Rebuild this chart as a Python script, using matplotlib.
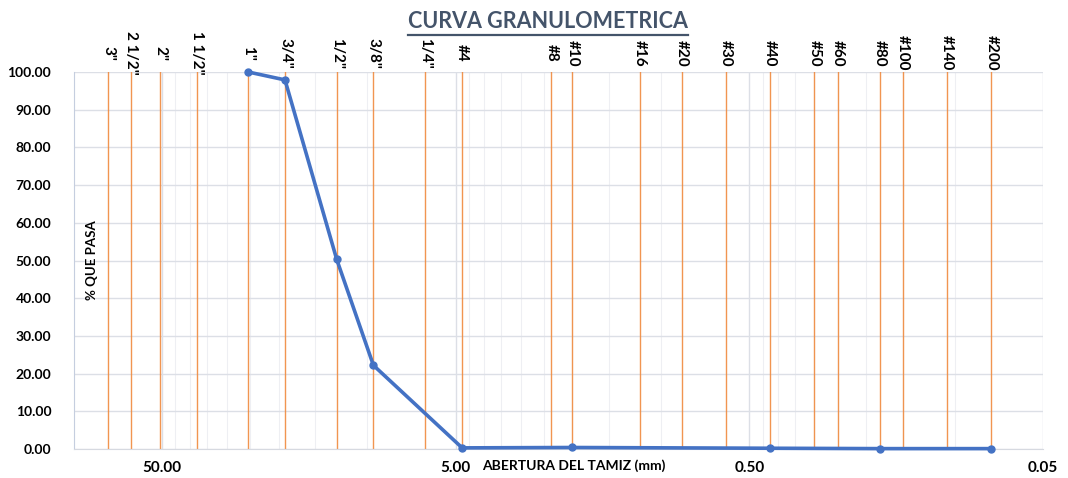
import matplotlib
matplotlib.use("Agg")
import matplotlib.pyplot as plt
from matplotlib.lines import Line2D
import numpy as np

plt.rcParams["font.family"] = ["Lato", "DejaVu Sans"]

# sieve series (vertical reference lines)
sieve_names = ['3"', '2 1/2"', '2"', '1 1/2"', '1"', '3/4"', '1/2"', '3/8"', '1/4"',
               '#4', '#8', '#10', '#16', '#20', '#30', '#40', '#50', '#60', '#80',
               '#100', '#140', '#200']
sieve_mm = [76.2, 63.5, 50.8, 38.1, 25.4, 19.05, 12.7, 9.525, 6.35,
            4.75, 2.36, 2.0, 1.18, 0.85, 0.6, 0.425, 0.3, 0.25, 0.18,
            0.15, 0.106, 0.075]

# grading curve
abertura_mm = [25.4, 19.05, 12.7, 9.525, 4.75, 2.0, 0.425, 0.18, 0.075]
pct_pasa = [100.0, 97.9, 50.3, 22.2, 0.3, 0.4, 0.2, 0.1, 0.1]

x_major = [50, 5, 0.5, 0.05]
x_major_labels = ["50.00", "5.00", "0.50", "0.05"]
y_ticks = list(range(0, 101, 10))

W, H = 1068, 478
fig = plt.figure(figsize=(W / 100, H / 100), dpi=100)
ax = fig.add_axes([73.5 / W, 1 - 449 / H, (1043 - 73.5) / W, (449 - 72) / H])

ax.set_xscale("log")
ax.set_xlim(100, 0.05)
ax.set_ylim(0, 100)

# gridlines
minor = [0.05 * k * 10 ** n for n in range(4) for k in range(2, 10) if 0.05 * k * 10 ** n <= 100]
ax.set_xticks(x_major)
ax.set_xticklabels(x_major_labels, fontsize=11, fontweight="bold")
ax.set_xticks(minor, minor=True)
ax.set_xticklabels([], minor=True)
ax.set_yticks(y_ticks)
ax.set_yticklabels([f"{v:.2f}" for v in y_ticks], fontsize=10, fontweight="bold")
ax.tick_params(which="both", length=0)
ax.tick_params(axis="y", pad=16)
ax.tick_params(axis="x", pad=9)
ax.grid(which="major", color="#DCDFE6", linewidth=1.0)
ax.grid(which="minor", axis="x", color="#EEEFF3", linewidth=0.8)
ax.set_axisbelow(True)
for s in ["top", "right"]:
    ax.spines[s].set_visible(False)
ax.spines["left"].set_color("#C5CEDF")
ax.spines["bottom"].set_color("#D6D9E0")

# sieve lines + labels
for name, d in zip(sieve_names, sieve_mm):
    ax.axvline(d, color="#F08A3E", linewidth=1.0, alpha=0.9, zorder=2)
    ax.text(d, 1.05, name, transform=ax.get_xaxis_transform(), rotation=270,
            ha="center", va="center", fontsize=11, fontweight="bold", clip_on=False)

ax.plot(abertura_mm, pct_pasa, color="#4472C4", linewidth=2.6, marker="o",
        markersize=5, zorder=3, clip_on=False)

ax.text(0.019, 0.5, "% QUE PASA", transform=ax.transAxes, rotation=90,
        ha="center", va="center", fontsize=9.5, fontweight="bold")
fig.text(574 / W, 1 - 466 / H, "ABERTURA DEL TAMIZ (mm)", ha="center", va="center",
         fontsize=10, fontweight="bold")

title = fig.text(548 / W, 1 - 21 / H, "CURVA GRANULOMETRICA", ha="center", va="center",
                 fontsize=15.5, fontweight="bold", color="#44546A")
fig.canvas.draw()
bb = title.get_window_extent().transformed(fig.transFigure.inverted())
fig.add_artist(Line2D([bb.x0, bb.x1], [1 - 35 / H] * 2, color="#44546A",
                      linewidth=1.6, transform=fig.transFigure))

fig.savefig("out.png", dpi=100)
